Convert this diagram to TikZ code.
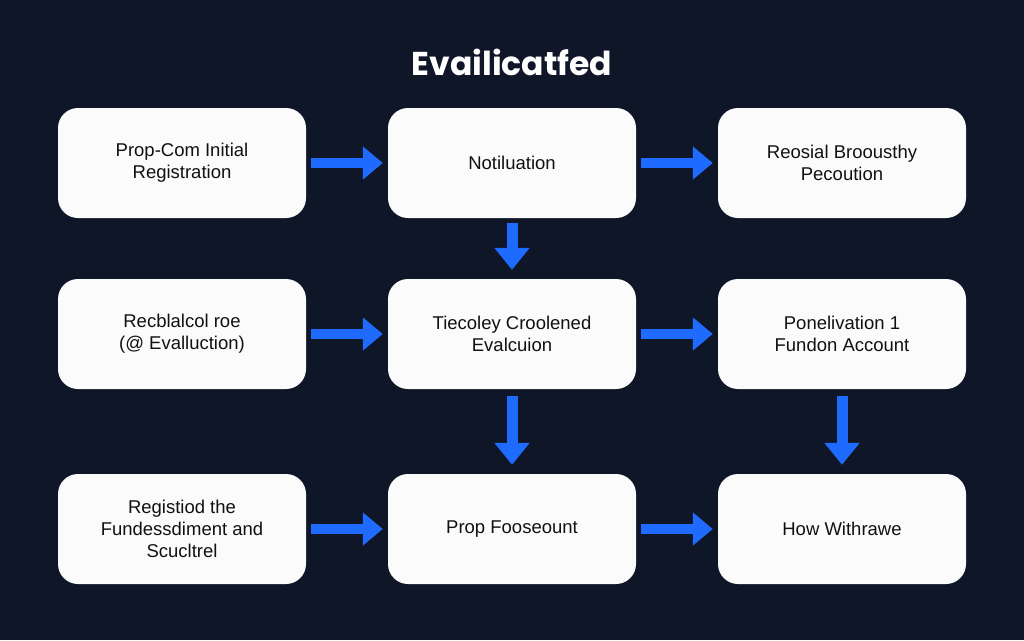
\documentclass[tikz,border=0pt]{standalone}
\usepackage{fontspec}
\setmainfont{Liberation Sans}
\newfontfamily\titlefont{Poppins}
\usetikzlibrary{arrows.meta}
\definecolor{bgnavy}{HTML}{0E1628}
\definecolor{arrblue}{HTML}{1F6BFF}
\definecolor{boxfill}{HTML}{FBFBFC}
\definecolor{txt}{HTML}{111111}
\tikzset{
  stepbox/.style={fill=boxfill, rounded corners=20pt, minimum width=248pt, minimum height=110pt,
    inner sep=0pt, align=center, text=txt, font=\fontsize{18.5}{22}\selectfont},
  harrow/.style={draw=arrblue, line width=9.5pt, -{Triangle[length=20pt,width=32pt]},
    shorten <=5pt, shorten >=5pt},
  varrow/.style={draw=arrblue, line width=11pt, -{Triangle[length=22pt,width=34pt]}}
}
\begin{document}
\begin{tikzpicture}[x=1pt,y=-1pt]
\fill[bgnavy] (0,0) rectangle (1024,640);
\useasboundingbox (0,0) rectangle (1024,640);
\node[text=white, font=\titlefont\bfseries\fontsize{33}{38}\selectfont] (title) at (512,62) {Evailicatfed};
\node[stepbox] (a1) at (182,163) {Prop-Com Initial\\Registration};
\node[stepbox] (a2) at (512,163) {Notiluation};
\node[stepbox] (a3) at (842,163) {Reosial Broousthy\\Pecoution};
\node[stepbox] (b1) at (182,334) {Recblalcol roe\\(@ Evalluction)};
\node[stepbox] (b2) at (512,334) {Tiecoley Croolened\\Evalcuion};
\node[stepbox] (b3) at (842,334) {Ponelivation 1\\Fundon Account};
\node[stepbox] (c1) at (182,529) {Registiod the\\Fundessdiment and\\Scucltrel};
\node[stepbox] (c2) at (512,529) {Prop Fooseount};
\node[stepbox] (c3) at (842,529) {How Withrawe};
\draw[harrow] (a1) -- (a2);
\draw[harrow] (a2) -- (a3);
\draw[harrow] (b1) -- (b2);
\draw[harrow] (b2) -- (b3);
\draw[harrow] (c1) -- (c2);
\draw[harrow] (c2) -- (c3);
\draw[varrow, shorten <=5pt, shorten >=9pt] (a2) -- (b2);
\draw[varrow, shorten <=7pt, shorten >=9pt] (b2) -- (c2);
\draw[varrow, shorten <=7pt, shorten >=9pt] (b3) -- (c3);
\end{tikzpicture}
\end{document}
